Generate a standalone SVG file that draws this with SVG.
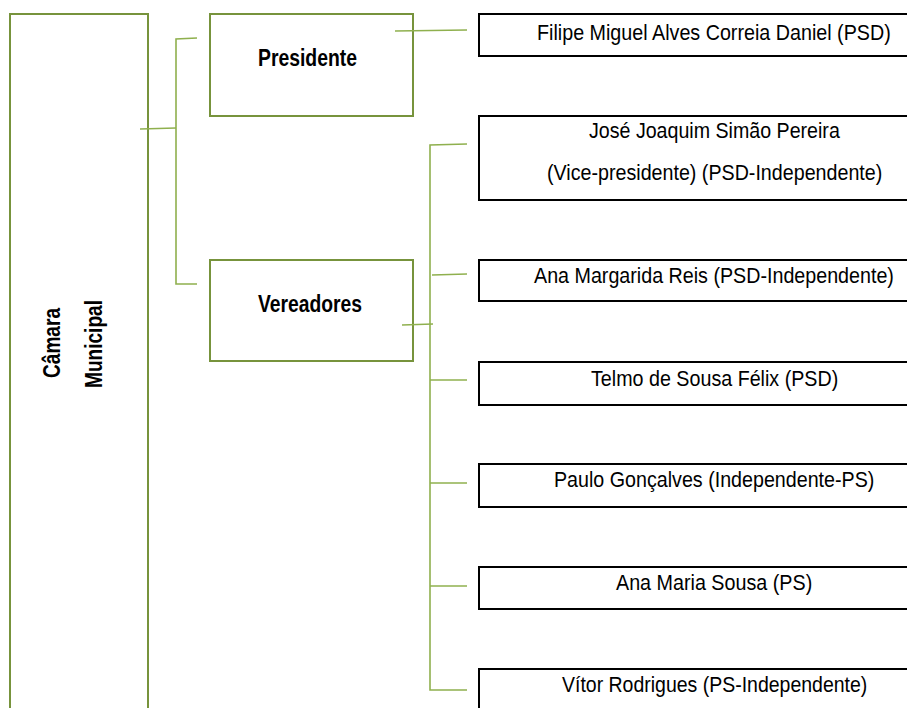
<svg xmlns="http://www.w3.org/2000/svg" width="907" height="708" viewBox="0 0 907 708">
<style>
.g{fill:none;stroke:#77933C;stroke-width:2}
.b{fill:none;stroke:#000;stroke-width:2}
.c{fill:none;stroke:#8FB04E;stroke-width:1.6}
.t{font-family:"Liberation Sans",Arial,sans-serif;font-size:22px;fill:#000}
.h{font-family:"Liberation Sans",Arial,sans-serif;font-size:23px;font-weight:bold;fill:#000}
</style>
<rect width="907" height="708" fill="#fff"/>
<g id="camara">
<path class="g" d="M10,708 V14 H148 V708"/>
<text class="h" transform="translate(60,343) rotate(-90)" text-anchor="middle" textLength="70" lengthAdjust="spacingAndGlyphs">Câmara</text>
<text class="h" transform="translate(102,344) rotate(-90)" text-anchor="middle" textLength="88" lengthAdjust="spacingAndGlyphs">Municipal</text>
</g>
<g id="presidente">
<rect class="g" x="210" y="14" width="203" height="102"/>
<text class="h" x="258" y="66" textLength="99" lengthAdjust="spacingAndGlyphs">Presidente</text>
</g>
<g id="vereadores">
<rect class="g" x="210" y="260" width="203" height="101"/>
<text class="h" x="258" y="312" textLength="104" lengthAdjust="spacingAndGlyphs">Vereadores</text>
</g>
<g id="connectors">
<polyline class="c" points="140,129 176,128"/>
<polyline class="c" points="197,38 176,39 176,284 197,284"/>
<polyline class="c" points="395,31 467,30"/>
<polyline class="c" points="467,144 430,145 430,690 467,690"/>
<polyline class="c" points="432,275 467,274"/>
<polyline class="c" points="402,325 433,324"/>
<polyline class="c" points="430,380 467,380"/>
<polyline class="c" points="430,483 467,483"/>
<polyline class="c" points="430,586 467,586"/>
</g>
<g id="filipe">
<path class="b" d="M907,14 H479 V56 H907"/>
<text class="t" transform="translate(537,40) scale(0.88,1)" textLength="402" lengthAdjust="spacingAndGlyphs">Filipe Miguel Alves Correia Daniel (PSD)</text>
</g>
<g id="jose">
<path class="b" d="M907,116 H479 V200 H907"/>
<text class="t" transform="translate(589,138) scale(0.88,1)" textLength="285" lengthAdjust="spacingAndGlyphs">José Joaquim Simão Pereira</text>
<text class="t" transform="translate(547,180) scale(0.88,1)" textLength="381" lengthAdjust="spacingAndGlyphs">(Vice-presidente) (PSD-Independente)</text>
</g>
<g id="ana-margarida">
<path class="b" d="M907,260 H479 V301 H907"/>
<text class="t" transform="translate(534,283) scale(0.88,1)" textLength="409" lengthAdjust="spacingAndGlyphs">Ana Margarida Reis (PSD-Independente)</text>
</g>
<g id="telmo">
<path class="b" d="M907,362 H479 V405 H907"/>
<text class="t" transform="translate(591,386) scale(0.88,1)" textLength="281" lengthAdjust="spacingAndGlyphs">Telmo de Sousa Félix (PSD)</text>
</g>
<g id="paulo">
<path class="b" d="M907,464 H479 V507 H907"/>
<text class="t" transform="translate(554,487) scale(0.88,1)" textLength="364" lengthAdjust="spacingAndGlyphs">Paulo Gonçalves (Independente-PS)</text>
</g>
<g id="ana-maria">
<path class="b" d="M907,567 H479 V609 H907"/>
<text class="t" transform="translate(616,590) scale(0.88,1)" textLength="223" lengthAdjust="spacingAndGlyphs">Ana Maria Sousa (PS)</text>
</g>
<g id="vitor">
<path class="b" d="M907,669 H479 V708"/>
<text class="t" transform="translate(562,692) scale(0.88,1)" textLength="347" lengthAdjust="spacingAndGlyphs">Vítor Rodrigues (PS-Independente)</text>
</g>
</svg>
